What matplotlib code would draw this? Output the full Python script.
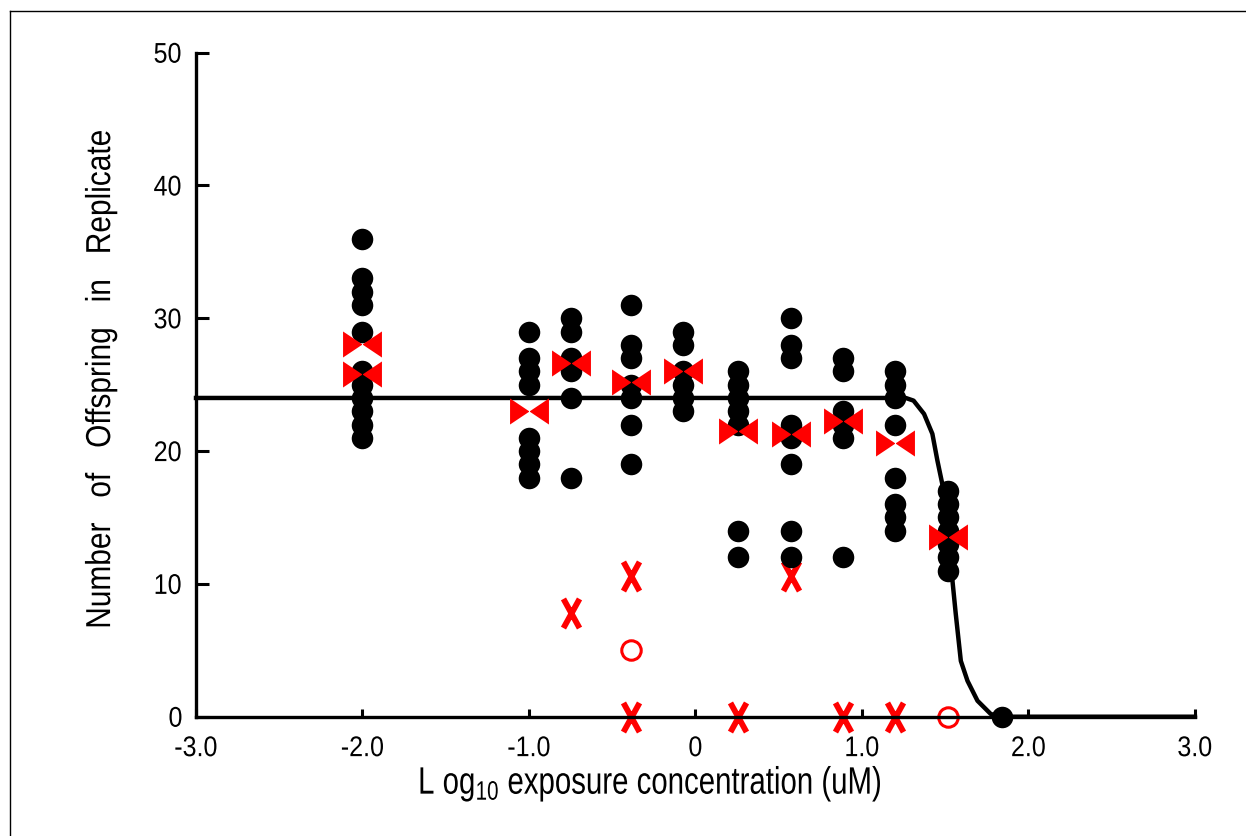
import matplotlib
matplotlib.use("Agg")
import matplotlib.pyplot as plt
from matplotlib.path import Path
from matplotlib.lines import Line2D
from matplotlib.patheffects import AbstractPathEffect
from matplotlib.transforms import Affine2D

#===============================================================================
# data
conc = [-2.0, -1.0, -0.748, -0.387, -0.073, 0.253, 0.574, 0.888, 1.198, 1.518, 1.839]
replicates = [
    [36, 33, 32, 31, 29, 26, 25, 24, 23, 22, 21],
    [29, 27, 26, 25, 21, 20, 19, 18],
    [30, 29, 27, 26, 24, 18],
    [31, 28, 27, 25, 24, 22, 19],
    [29, 28, 26, 25, 24, 23],
    [26, 25, 24, 23, 22, 14, 12],
    [30, 28, 27, 22, 21, 19, 14, 12],
    [27, 26, 23, 22, 21, 12],
    [26, 25, 24, 22, 18, 16, 15, 14],
    [17, 16, 15, 14, 13, 12, 11],
    [0],
]

mean_x = [-2.0, -2.0, -1.0, -0.748, -0.387, -0.073, 0.253, 0.574, 0.888, 1.198, 1.518]
mean_y = [28.1, 25.8, 23.0, 26.6, 25.2, 26.0, 21.5, 21.3, 22.3, 20.6, 13.5]

excl_x = [-0.748, -0.387, -0.387, 0.253, 0.574, 0.888, 1.198]
excl_y = [7.8, 10.6, 0.0, 0.0, 10.6, 0.0, 0.0]

open_x = [-0.387, 1.518]
open_y = [5.0, 0.0]

curve_x = [-3.0, 1.263, 1.31, 1.373, 1.423, 1.453, 1.483, 1.51, 1.544, 1.563,
           1.594, 1.634, 1.694, 1.774, 1.839, 3.0]
curve_y = [24.0, 24.0, 23.8, 22.8, 21.3, 19.3, 17.5, 14.0, 10.2, 7.8,
           4.2, 2.7, 1.2, 0.2, 0.0, 0.0]

x_ticks = [-3.0, -2.0, -1.0, 0.0, 1.0, 2.0, 3.0]
x_tick_labels = ["-3.0", "-2.0", "-1.0", "0", "1.0", "2.0", "3.0"]
y_ticks = [0, 10, 20, 30, 40, 50]

#===============================================================================
class Squeeze(AbstractPathEffect):
    # narrows text sideways, the reference uses a condensed face
    def __init__(self, sx=0.9):
        super().__init__()
        self.sx = sx

    def draw_path(self, renderer, gc, tpath, affine, rgbFace=None):
        xs = tpath.vertices[:, 0]
        cx = 0.5 * (xs.min() + xs.max())
        squeeze = Affine2D().translate(-cx, 0).scale(self.sx, 1.0).translate(cx, 0)
        renderer.draw_path(gc, tpath, squeeze + affine, rgbFace)

#===============================================================================
plt.rcParams["font.family"] = ["Liberation Sans", "DejaVu Sans"]
plt.rcParams["mathtext.default"] = "regular"

bowtie = Path(
    [(-1, -0.67), (0, 0), (-1, 0.67), (-1, -0.67),
     (1, -0.67), (0, 0), (1, 0.67), (1, -0.67)],
    [Path.MOVETO, Path.LINETO, Path.LINETO, Path.CLOSEPOLY,
     Path.MOVETO, Path.LINETO, Path.LINETO, Path.CLOSEPOLY])
cross = Path(
    [(-0.55, -1), (0.55, 1), (-0.55, 1), (0.55, -1)],
    [Path.MOVETO, Path.LINETO, Path.MOVETO, Path.LINETO])

fig = plt.figure(figsize=(12.46, 8.36), dpi=100)
ax = fig.add_axes([0.1573, 0.1427, 0.8017, 0.7943])

ax.plot(curve_x, curve_y, color="black", lw=3.2, zorder=2, clip_on=False)

ax.plot(excl_x, excl_y, linestyle="none", marker=cross, markersize=21,
        markerfacecolor="none", markeredgecolor="red", markeredgewidth=4.2,
        zorder=3, clip_on=False)
ax.plot(open_x, open_y, linestyle="none", marker="o", markersize=14,
        markerfacecolor="none", markeredgecolor="red", markeredgewidth=2.2,
        zorder=3, clip_on=False)

for x, ys in zip(conc, replicates):
    ax.plot([x] * len(ys), ys, linestyle="none", marker="o", markersize=15.5,
            color="black", markeredgewidth=0, zorder=4, clip_on=False)

ax.plot(mean_x, mean_y, linestyle="none", marker=bowtie, markersize=28,
        color="red", markeredgewidth=0, zorder=5, clip_on=False)

ax.set_xlim(-3.0, 3.0)
ax.set_ylim(0, 50)
ax.set_xticks(x_ticks)
ax.set_xticklabels(x_tick_labels)
ax.set_yticks(y_ticks)

for side in ["top", "right"]:
    ax.spines[side].set_visible(False)
for side in ["left", "bottom"]:
    ax.spines[side].set_linewidth(2.4)
    ax.spines[side].set_zorder(3.5)

ax.tick_params(axis="y", direction="in", length=9, width=2.2, pad=9, labelsize=20.5)
ax.tick_params(axis="x", direction="in", length=5.5, width=2.2, pad=14, labelsize=20.5)
for lbl in ax.get_xticklabels() + ax.get_yticklabels():
    lbl.set_path_effects([Squeeze(0.88)])

ax.set_xlabel("L og$_{10}$ exposure concentration (uM)", fontsize=27.5,
              path_effects=[Squeeze(0.77)])
ax.xaxis.set_label_coords(0.455, -0.071)
ax.set_ylabel("Number   of   Offspring   in   Replicate", fontsize=25,
              path_effects=[Squeeze(0.86)])
ax.yaxis.set_label_coords(-0.079, 0.509)

# thin frame round the picture
fig.add_artist(Line2D([10 / 1246, 10 / 1246], [0, 1 - 11 / 836], color="black", lw=1.0))
fig.add_artist(Line2D([10 / 1246, 1], [1 - 11 / 836, 1 - 11 / 836], color="black", lw=1.0))

fig.savefig("out.png", dpi=100)
